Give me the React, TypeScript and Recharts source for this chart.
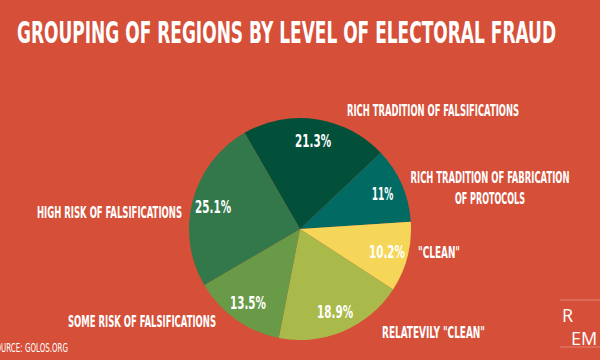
import { PieChart, Pie, Cell } from 'recharts';

// Share of regions per group, clockwise from the top slice
const categories = [
    'RICH TRADITION OF FALSIFICATIONS',
    'RICH TRADITION OF FABRICATION|OF PROTOCOLS',
    '"CLEAN"',
    'RELATEVILY "CLEAN"',
    'SOME RISK OF FALSIFICATIONS',
    'HIGH RISK OF FALSIFICATIONS',
];
const shares = [21.3, 11, 10.2, 18.9, 13.5, 25.1];
const colors = ['#03503A', '#006A63', '#F5D658', '#A9BA4B', '#689A47', '#33784A'];

const data = categories.map((name, i) => ({ name, value: shares[i] }));

const FONT = '"Liberation Sans Narrow", "DejaVu Sans Condensed", "Roboto", sans-serif';
const BG = '#D54F39';

// where each group's caption sits (x center, baseline of first line, width per line)
const callouts = [
    { x: 433, y: 115.5, w: [172] },
    { x: 490, y: 182.5, w: [159, 70] },
    { x: 439, y: 257.5, w: [42] },
    { x: 433.5, y: 337.5, w: [103] },
    { x: 142, y: 326.5, w: [148] },
    { x: 109.5, y: 217.5, w: [145] },
];

const RAD = Math.PI / 180;

const renderShare = (props: any) => {
    const { cx, cy, midAngle, outerRadius, index } = props;
    const r = outerRadius * 0.81;
    const x = cx + r * Math.cos(-midAngle * RAD);
    const y = cy + r * Math.sin(-midAngle * RAD);
    const txt = `${shares[index]}%`;
    return (
        <text
            x={x}
            y={y + 6.5}
            textAnchor="middle"
            fill="#fff"
            fontFamily={FONT}
            fontWeight={700}
            fontSize={18}
            textLength={txt.length * 7.2}
            lengthAdjust="spacingAndGlyphs"
        >
            {txt}
        </text>
    );
};

export default function App() {
    return (
        <div style={{ position: 'absolute', left: 0, top: 0, width: 600, height: 360, background: BG, overflow: 'hidden' }}>
            <PieChart width={600} height={360} margin={{ top: 0, right: 0, bottom: 0, left: 0 }}>
                <text x={17} y={43} fill="#fff" fontFamily={FONT} fontWeight={700} fontSize={31} textLength={539} lengthAdjust="spacingAndGlyphs">
                    GROUPING OF REGIONS BY LEVEL OF ELECTORAL FRAUD
                </text>

                <Pie
                    data={data}
                    dataKey="value"
                    cx={300}
                    cy={229}
                    outerRadius={111}
                    startAngle={120}
                    endAngle={-240}
                    stroke="none"
                    label={renderShare}
                    labelLine={false}
                    isAnimationActive={false}
                >
                    {data.map((d, i) => (
                        <Cell key={d.name} fill={colors[i]} />
                    ))}
                </Pie>

                {categories.map((name, i) =>
                    name.split('|').map((line, j) => (
                        <text
                            key={`${i}-${j}`}
                            x={callouts[i].x}
                            y={callouts[i].y + j * 21}
                            textAnchor="middle"
                            fill="#fff"
                            fontFamily={FONT}
                            fontWeight={700}
                            fontSize={15}
                            textLength={callouts[i].w[j]}
                            lengthAdjust="spacingAndGlyphs"
                        >
                            {line}
                        </text>
                    ))
                )}

                <text x={-9} y={352} fill="#fff" fontFamily={FONT} fontSize={13} textLength={77} lengthAdjust="spacingAndGlyphs">
                    SOURCE: GOLOS.ORG
                </text>

                {/* logo */}
                <line x1={560} y1={300} x2={600} y2={300} stroke="#fff" strokeOpacity={0.3} />
                <line x1={560} y1={347} x2={600} y2={347} stroke="#fff" strokeOpacity={0.3} />
                <text x={562} y={322} fill="#fff" fontFamily='"Open Sans", sans-serif' fontSize={18}>R</text>
                <text x={571} y={345} fill="#fff" fontFamily='"Open Sans", sans-serif' fontSize={18}>EM</text>
            </PieChart>
        </div>
    );
}
